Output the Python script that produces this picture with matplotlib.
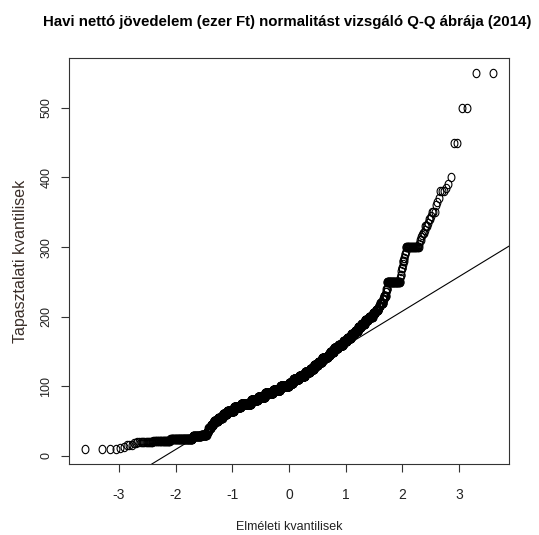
import numpy as np
import matplotlib
matplotlib.use("Agg")
import matplotlib.pyplot as plt
from matplotlib.path import Path
from statistics import NormalDist

plt.rcParams['axes.unicode_minus'] = False

# sorted sample: distinct values (ezer Ft) and how many times each occurs
values = [10, 12, 13, 15, 16, 18, 19, 20, 22, 24, 25, 28, 30,
          35, 40, 45, 50, 55, 60, 65, 70, 75, 80, 85, 90, 95, 100,
          105, 110, 115, 120, 125, 130, 135, 140, 142, 145, 150, 155, 160,
          165, 170, 175, 180, 185, 190, 195, 200,
          205, 210, 215, 220, 225, 230, 235, 240, 250,
          255, 260, 265, 270, 275, 280, 285, 290, 295, 300,
          305, 310, 315, 318, 320, 325, 330, 335, 340, 345, 350,
          360, 365, 370, 380, 385, 390, 400, 450, 500, 550]
counts = [4, 1, 1, 2, 1, 1, 1, 14, 30, 43, 38, 49, 39,
          13, 19, 24, 42, 47, 52, 85, 97, 165, 120, 140, 161, 154, 182,
          97, 121, 118, 104, 83, 82, 70, 73, 30, 31, 61, 71, 70,
          50, 50, 38, 37, 32, 32, 31, 32,
          19, 19, 10, 16, 5, 10, 2, 4, 51,
          1, 2, 1, 3, 1, 3, 2, 2, 1, 27,
          1, 2, 1, 1, 2, 1, 3, 1, 2, 1, 3,
          1, 1, 1, 3, 1, 1, 1, 2, 2, 2]

title = "Havi nettó jövedelem (ezer Ft) normalitást vizsgáló Q-Q ábrája (2014)"
xlabel = "Elméleti kvantilisek"
ylabel = "Tapasztalati kvantilisek"

y = np.repeat(values, counts).astype(float)
n = len(y)
# qqnorm: theoretical quantiles from ppoints(n)
p = (np.arange(1, n + 1) - 0.5) / n
nd = NormalDist()
x = np.array([nd.inv_cdf(v) for v in p])

# qqline through the quartiles
q1, q3 = np.quantile(y, [0.25, 0.75])
z1, z3 = nd.inv_cdf(0.25), nd.inv_cdf(0.75)
slope = (q3 - q1) / (z3 - z1)
icpt = q1 - slope * z1

# slightly tall open circle (picture was squeezed sideways)
t = np.linspace(0, 2 * np.pi, 40)
ell = Path(np.column_stack([0.82 * np.cos(t), np.sin(t)]), closed=True)

fig = plt.figure(figsize=(5.39, 5.35), dpi=100)
ax = fig.add_axes([0.128, 0.1327, 0.816, 0.7589])

ax.plot(x, y, linestyle="none", marker=ell, markersize=6,
        markerfacecolor="none", markeredgecolor="black", markeredgewidth=0.8)
ax.axline((0, icpt), slope=slope, color="black", linewidth=0.8)

ax.margins(x=0.04, y=0.04)
ax.set_xticks([-3, -2, -1, 0, 1, 2, 3])
ax.set_xticklabels(["-3", "-2", "-1", "0", "1", "2", "3"],
                   family="Liberation Sans", fontsize=10)
ax.set_yticks([0, 100, 200, 300, 400, 500])
ax.set_yticklabels(["0", "100", "200", "300", "400", "500"],
                   family="Liberation Sans", fontsize=9,
                   rotation=90, va="center")
ax.tick_params(direction="out", length=6, width=0.8, colors="#333333",
               labelcolor="#222222")
ax.tick_params(axis="x", pad=11)
ax.tick_params(axis="y", pad=6)
for s in ax.spines.values():
    s.set_linewidth(0.8)
    s.set_color("#333333")

ax.set_xlabel(xlabel, family="Liberation Sans", fontsize=9,
              color="#222222", labelpad=14)
ax.set_ylabel(ylabel, family="Liberation Sans", fontsize=11.5,
              color="#3a2e28", labelpad=9)
fig.text(0.533, 0.959, title, ha="center", va="center",
         family="Liberation Sans", fontweight="bold", fontsize=10.8)

fig.savefig("out.png", dpi=100)
